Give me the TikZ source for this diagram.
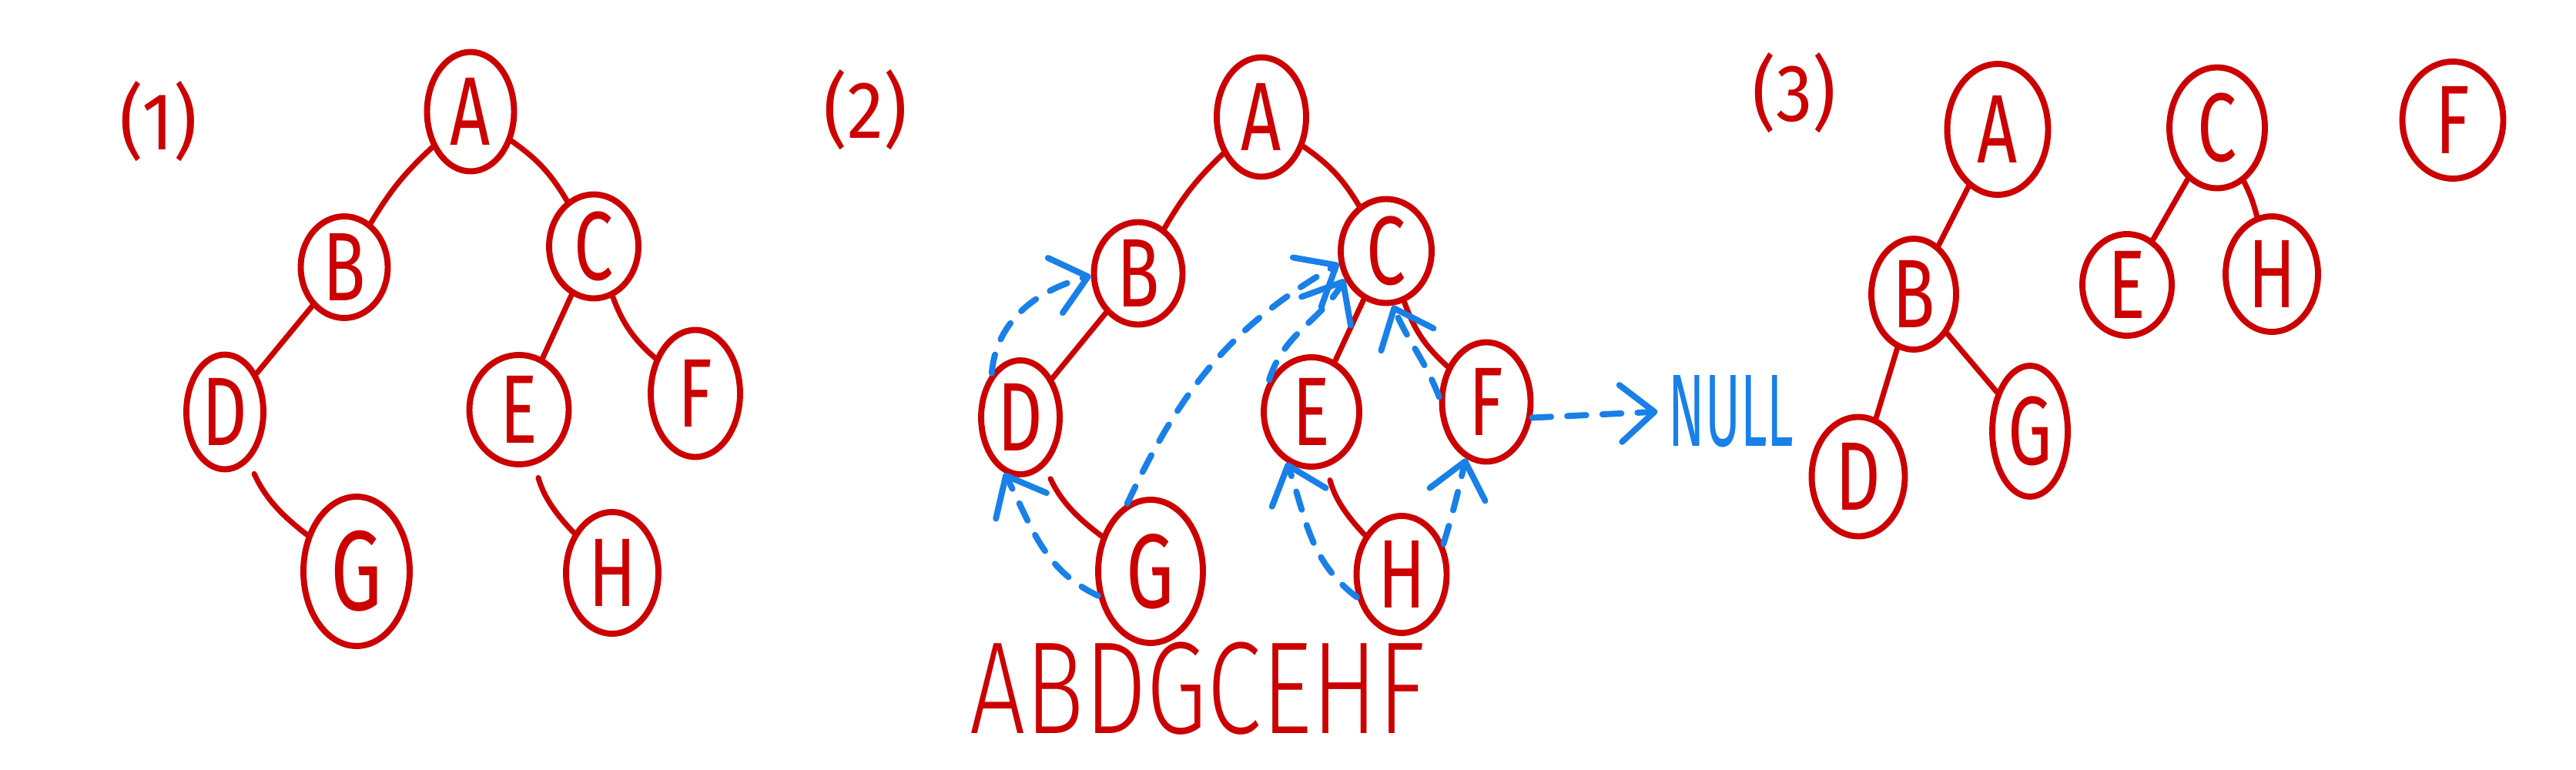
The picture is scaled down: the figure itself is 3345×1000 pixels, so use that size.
\documentclass[tikz,border=0pt]{standalone}
\usepackage{fontspec}
\setmainfont{Liberation Sans}
\newfontfamily\hand{Fira Sans Light}
\newfontfamily\handr{Fira Sans}
\usetikzlibrary{shapes.geometric,arrows.meta}
\definecolor{hred}{RGB}{204,0,0}
\definecolor{hblue}{RGB}{24,128,232}
\newcommand\hw[1]{\scalebox{0.72}[1]{#1}}
\tikzset{
  tn/.style={ellipse, draw=hred, line width=4.5pt, inner sep=0pt, text=hred,
    font=\handr\fontsize{72}{76}\selectfont},
  tedge/.style={draw=hred, line width=4pt, line cap=round},
  thread/.style={draw=hblue, line width=4.5pt, line cap=round,
    dash pattern=on 14pt off 12pt,
    -{Straight Barb[length=25pt,width=42pt,round]}},
  lbl/.style={text=hred, font=\handr\fontsize{60}{64}\selectfont, inner sep=0pt},
}
\begin{document}
\begin{tikzpicture}[x=0.02cm,y=0.02cm]
\useasboundingbox[fill=white] (0,0) rectangle (3345,-1000);

% ---------- panel (1)
\node[lbl] (l1) at (206,-158) {\scalebox{0.9}[1]{(1)}};
\node[tn, minimum width=2.26cm, minimum height=3.10cm] (A1) at (611,-145) {\hw{A}};
\node[tn, minimum width=2.26cm, minimum height=2.64cm] (B1) at (447,-347) {\hw{B}};
\node[tn, minimum width=2.32cm, minimum height=2.70cm] (C1) at (771,-320) {\hw{C}};
\node[tn, minimum width=2.00cm, minimum height=2.98cm] (D1) at (292,-535) {\hw{D}};
\node[tn, minimum width=2.58cm, minimum height=2.84cm] (E1) at (674,-532) {\hw{E}};
\node[tn, minimum width=2.32cm, minimum height=3.30cm] (F1) at (903,-511) {\hw{F}};
\node[tn, minimum width=2.76cm, minimum height=3.88cm, font=\handr\fontsize{84}{88}\selectfont] (G1) at (463,-742) {\hw{G}};
\node[tn, minimum width=2.40cm, minimum height=3.16cm] (H1) at (795,-744) {\hw{H}};
\draw[tedge] (A1) to[bend right=8] (B1);
\draw[tedge] (A1) to[bend left=12] (C1);
\draw[tedge] (B1) -- (D1);
\draw[tedge] (C1) -- (E1);
\draw[tedge] (C1) to[bend right=14] (F1);
\draw[tedge, shorten <=10pt] (D1) to[bend right=14] (G1);
\draw[tedge, shorten <=10pt] (E1) to[bend right=14] (H1);

% ---------- panel (2)
\node[lbl] (l2) at (1124,-143) {\scalebox{0.9}[1]{(2)}};
\node[tn, minimum width=2.32cm, minimum height=3.10cm] (A2) at (1638,-152) {\hw{A}};
\node[tn, minimum width=2.30cm, minimum height=2.66cm] (B2) at (1478,-355) {\hw{B}};
\node[tn, minimum width=2.36cm, minimum height=2.70cm] (C2) at (1800,-326) {\hw{C}};
\node[tn, minimum width=2.04cm, minimum height=2.96cm] (D2) at (1325,-542) {\hw{D}};
\node[tn, minimum width=2.48cm, minimum height=2.84cm] (E2) at (1703,-535) {\hw{E}};
\node[tn, minimum width=2.30cm, minimum height=3.10cm] (F2) at (1930,-522) {\hw{F}};
\node[tn, minimum width=2.72cm, minimum height=3.72cm, font=\handr\fontsize{78}{82}\selectfont] (G2) at (1494,-742) {\hw{G}};
\node[tn, minimum width=2.34cm, minimum height=3.04cm] (H2) at (1820,-746) {\hw{H}};
\draw[tedge] (A2) to[bend right=8] (B2);
\draw[tedge] (A2) to[bend left=12] (C2);
\draw[tedge] (B2) -- (D2);
\draw[tedge] (C2) -- (E2);
\draw[tedge] (C2) to[bend right=14] (F2);
\draw[tedge, shorten <=10pt] (D2) to[bend right=14] (G2);
\draw[tedge, shorten <=10pt] (E2) to[bend right=14] (H2);

\node[inner sep=0pt, text=hblue, font=\handr\fontsize{76}{80}\selectfont] (null) at (2248,-534) {\scalebox{0.52}[1]{NULL}};
\node[lbl, font=\hand\fontsize{97}{100}\selectfont] (trav) at (1555,-894) {\scalebox{0.75}[1]{ABDGCEHF}};

% threads
\draw[thread] (G2.205) to[out=155, in=-63] (D2.254);
\draw[thread] (D2.123) to[out=85, in=195] (B2.183);
\draw[thread] (G2.109) to[out=65, in=210] (C2.195);
\draw[thread] (E2.143) to[out=73, in=240] (C2.214);
\draw[thread] (F2.174) to[out=111, in=293] (C2.277);
\draw[thread] (H2.207) to[out=143, in=289] (E2.244);
\draw[thread] (H2.36) to[out=73, in=257] (F2.250);
\draw[thread, shorten >=8pt] (F2.-19) -- (null.west);

% ---------- panel (3)
\node[lbl] (l3) at (2330,-121) {\scalebox{0.9}[1]{(3)}};
\node[tn, minimum width=2.62cm, minimum height=3.40cm] (A3) at (2594,-168) {\hw{A}};
\node[tn, minimum width=2.20cm, minimum height=2.88cm] (B3) at (2485,-382) {\hw{B}};
\node[tn, minimum width=2.42cm, minimum height=3.10cm] (D3) at (2413,-619) {\hw{D}};
\node[tn, minimum width=1.96cm, minimum height=3.40cm] (G3) at (2636,-560) {\hw{G}};
\node[tn, minimum width=2.48cm, minimum height=3.14cm] (C3) at (2879,-166) {\hw{C}};
\node[tn, minimum width=2.32cm, minimum height=2.64cm] (E3) at (2762,-370) {\hw{E}};
\node[tn, minimum width=2.40cm, minimum height=3.00cm] (H3) at (2950,-356) {\hw{H}};
\node[tn, minimum width=2.62cm, minimum height=3.04cm] (F3) at (3185,-156) {\hw{F}};
\draw[tedge] (A3) -- (B3);
\draw[tedge] (B3) -- (D3);
\draw[tedge] (B3) -- (G3);
\draw[tedge] (C3) -- (E3);
\draw[tedge] (C3) to[bend left=6] (H3);
\end{tikzpicture}
\end{document}
